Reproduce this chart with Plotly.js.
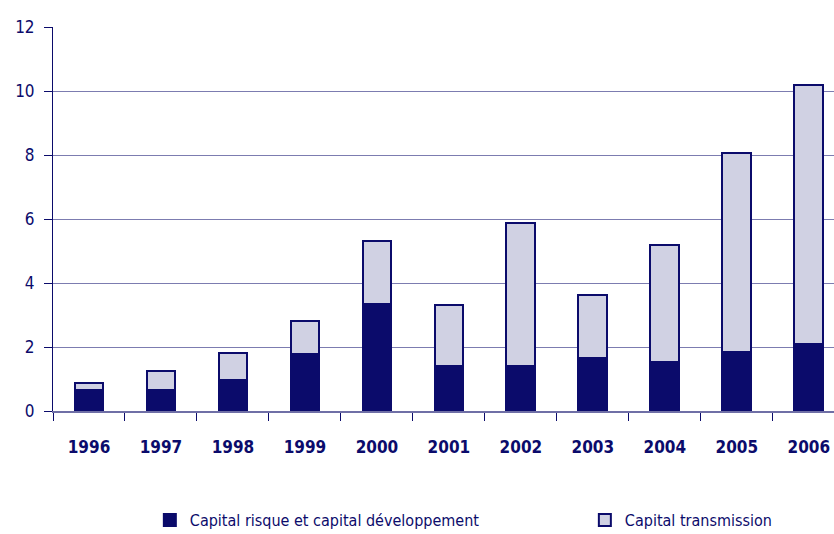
<!DOCTYPE html>
<html>
<head>
<meta charset="utf-8">
<script src="https://cdn.plot.ly/plotly-3.0.1.min.js"></script>
<style>
  html, body { margin: 0; padding: 0; background: #ffffff; }
  #chart { width: 834px; height: 534px; }
</style>
</head>
<body>
<div id="chart"></div>
<script>
// years on the x axis
var years = ['1996', '1997', '1998', '1999', '2000', '2001', '2002', '2003', '2004', '2005', '2006'];

// bottom part of each bar (dark)
var capitalRisque = [0.66, 0.65, 0.97, 1.78, 3.34, 1.41, 1.41, 1.66, 1.52, 1.83, 2.08];
// top part of each bar (light)
var capitalTransmission = [0.22, 0.61, 0.85, 1.04, 1.98, 1.91, 4.47, 1.97, 3.68, 6.24, 8.12];

var yTicks = [0, 2, 4, 6, 8, 10, 12];

var navy = '#0b0b6b';
var fontFam = '"DejaVu Sans Condensed", "Liberation Sans", sans-serif';

var trace1 = {
    name: 'Capital risque et capital développement',
    x: years,
    y: capitalRisque,
    type: 'bar',
    legend: 'legend',
    marker: {color: navy, line: {color: navy, width: 2}},
    hoverinfo: 'none'
};

var trace2 = {
    name: 'Capital transmission',
    x: years,
    y: capitalTransmission,
    type: 'bar',
    legend: 'legend2',
    marker: {color: '#d0d1e3', line: {color: navy, width: 2}},
    hoverinfo: 'none'
};

// one legend per entry so each can sit where the original puts it
var legendFont = {size: 16, color: navy, family: fontFam};

var layout = {
    width: 834,
    height: 534,
    barmode: 'stack',
    bargap: 0.6,
    margin: {l: 53, r: 0, t: 27, b: 123, autoexpand: false},
    paper_bgcolor: '#ffffff',
    plot_bgcolor: '#ffffff',
    font: {family: fontFam, color: navy},
    showlegend: true,
    legend: {
        orientation: 'h',
        x: 0.124, xanchor: 'left',
        y: -0.284, yanchor: 'middle',
        font: legendFont
    },
    legend2: {
        orientation: 'h',
        x: 0.681, xanchor: 'left',
        y: -0.284, yanchor: 'middle',
        font: legendFont
    },
    xaxis: {
        type: 'category',
        range: [-0.5, 10.35],
        showgrid: false,
        showline: true, linecolor: '#6f6fa6', linewidth: 1.5,
        ticks: 'outside', tickson: 'boundaries', ticklen: 8, tickcolor: navy, tickwidth: 1,
        ticklabelstandoff: 20,
        tickfont: {size: 17, color: navy, family: fontFam, weight: 'bold'},
        zeroline: false
    },
    yaxis: {
        range: [0, 12],
        tickvals: yTicks,
        showgrid: true, gridcolor: '#7c7cb0', gridwidth: 1,
        showline: true, linecolor: navy, linewidth: 1,
        ticks: 'outside', ticklen: 8, tickcolor: navy, tickwidth: 1,
        ticklabelstandoff: 6,
        tickfont: {size: 17, color: navy, family: fontFam},
        zeroline: false
    }
};

var config = {displayModeBar: false, staticPlot: true};

Plotly.newPlot('chart', [trace1, trace2], layout, config);
</script>
</body>
</html>
